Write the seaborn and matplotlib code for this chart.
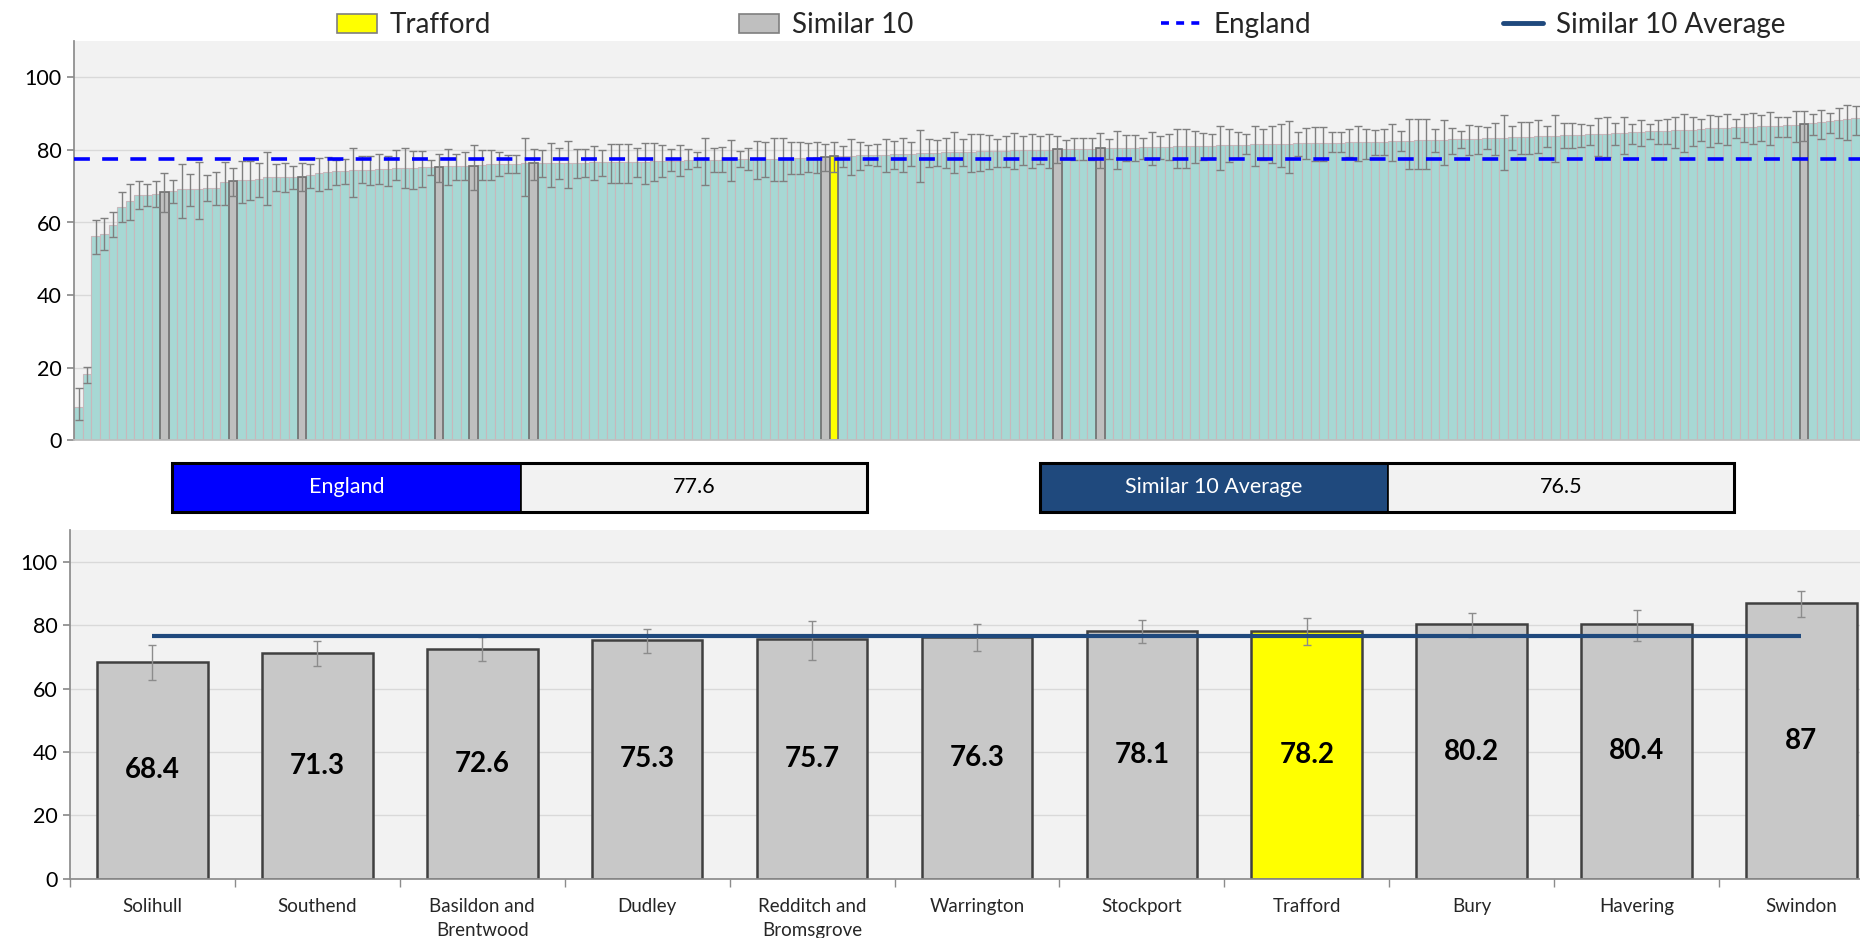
import numpy as np
import pandas as pd
import matplotlib
matplotlib.use("Agg")
import matplotlib.pyplot as plt
import seaborn as sns
from matplotlib.patches import Patch, Rectangle
from matplotlib.lines import Line2D

# ---------------- data ----------------
# top panel: all areas, sorted ascending
all_values = [
    9.1, 18.2, 56.2, 56.9, 59.4, 64.4, 65.8, 67.6, 67.7, 67.9,
    68.4, 68.6, 69.1, 69.2, 69.3, 69.4, 69.5, 71.2, 71.3, 71.6,
    71.8, 71.9, 72.4, 72.5, 72.5, 72.6, 72.6, 73.0, 73.6, 74.0,
    74.1, 74.2, 74.4, 74.5, 74.6, 74.7, 74.8, 75.0, 75.1, 75.1,
    75.2, 75.2, 75.3, 75.5, 75.6, 75.7, 75.7, 75.9, 76.0, 76.1,
    76.2, 76.2, 76.3, 76.3, 76.3, 76.4, 76.4, 76.5, 76.5, 76.5,
    76.6, 76.6, 76.6, 76.7, 76.7, 76.8, 76.8, 76.9, 76.9, 77.0,
    77.0, 77.1, 77.1, 77.2, 77.2, 77.3, 77.3, 77.4, 77.4, 77.5,
    77.6, 77.6, 77.7, 77.8, 77.8, 77.9, 78.0, 78.1, 78.2, 78.3,
    78.4, 78.5, 78.6, 78.6, 78.7, 78.8, 78.9, 79.0, 79.1, 79.2,
    79.2, 79.3, 79.4, 79.5, 79.5, 79.6, 79.7, 79.7, 79.8, 79.9,
    79.9, 80.0, 80.0, 80.1, 80.2, 80.2, 80.3, 80.3, 80.3, 80.4,
    80.5, 80.5, 80.6, 80.6, 80.7, 80.8, 80.9, 80.9, 81.0, 81.0,
    81.1, 81.2, 81.2, 81.3, 81.3, 81.4, 81.4, 81.5, 81.6, 81.6,
    81.7, 81.7, 81.8, 81.8, 81.9, 81.9, 82.0, 82.0, 82.1, 82.1,
    82.2, 82.2, 82.3, 82.4, 82.4, 82.5, 82.6, 82.6, 82.7, 82.8,
    82.9, 83.0, 83.0, 83.1, 83.2, 83.3, 83.4, 83.5, 83.5, 83.6,
    83.7, 83.8, 83.9, 84.0, 84.1, 84.2, 84.3, 84.4, 84.5, 84.6,
    84.7, 84.8, 84.9, 85.1, 85.2, 85.3, 85.4, 85.5, 85.6, 85.7,
    85.9, 86.0, 86.1, 86.2, 86.3, 86.4, 86.5, 86.6, 86.7, 86.8,
    86.9, 87.0, 87.4, 87.6, 87.9, 88.1, 88.4, 88.8,
]
all_lower = [
    5.6, 15.9, 51.3, 52.4, 55.9, 60.0, 60.8, 63.7, 64.6, 64.2,
    62.9, 65.5, 61.3, 64.6, 61.1, 65.8, 64.9, 64.9, 67.2, 65.5,
    66.1, 67.0, 64.7, 68.7, 68.4, 69.3, 68.8, 69.6, 68.8, 69.2,
    70.2, 70.6, 66.9, 71.0, 70.3, 70.7, 70.0, 71.6, 69.6, 69.1,
    69.9, 73.1, 71.2, 70.3, 71.8, 71.6, 69.0, 71.6, 71.6, 72.9,
    73.7, 73.6, 67.3, 71.8, 72.4, 69.9, 71.9, 69.6, 72.3, 72.6,
    71.7, 72.9, 71.0, 71.0, 71.0, 72.6, 70.7, 71.5, 72.5, 74.1,
    72.9, 74.7, 75.4, 70.4, 74.0, 73.9, 71.3, 75.2, 74.4, 72.1,
    72.5, 71.3, 71.3, 73.3, 73.3, 73.8, 73.7, 74.3, 73.8, 75.4,
    73.1, 74.5, 75.9, 75.5, 73.8, 74.8, 73.9, 75.7, 71.1, 75.3,
    75.7, 75.1, 73.5, 75.7, 73.9, 74.3, 74.7, 75.4, 75.4, 74.8,
    75.9, 75.1, 76.1, 75.1, 76.4, 77.4, 77.3, 77.1, 77.3, 75.1,
    77.5, 74.8, 76.9, 76.9, 77.4, 75.9, 77.6, 77.2, 75.1, 75.1,
    76.3, 77.3, 77.7, 74.6, 76.6, 77.8, 78.8, 75.5, 77.1, 76.3,
    75.4, 73.7, 78.4, 77.6, 76.9, 76.9, 79.3, 79.5, 78.1, 76.9,
    77.4, 78.7, 78.7, 76.9, 79.8, 74.8, 74.8, 74.8, 79.4, 75.9,
    78.9, 80.4, 78.6, 78.8, 80.2, 78.5, 74.4, 80.1, 79.0, 79.0,
    79.1, 80.7, 76.8, 80.5, 80.4, 80.9, 81.4, 78.3, 78.0, 81.3,
    78.9, 81.7, 81.2, 82.9, 81.7, 81.6, 80.6, 79.3, 81.2, 82.5,
    80.9, 81.8, 81.3, 83.3, 82.1, 81.7, 82.4, 81.3, 83.5, 83.5,
    82.1, 82.5, 84.2, 83.1, 84.7, 83.4, 82.6, 84.0,
]
all_upper = [
    14.3, 20.3, 60.7, 61.3, 62.8, 68.5, 70.6, 71.3, 70.6, 71.3,
    73.6, 71.8, 76.1, 73.4, 76.6, 73.0, 73.9, 76.8, 75.0, 76.9,
    76.9, 76.3, 79.3, 76.2, 76.5, 75.7, 76.5, 76.2, 77.9, 78.1,
    77.3, 77.5, 80.5, 78.3, 78.3, 79.0, 78.3, 80.0, 80.4, 79.7,
    79.6, 77.3, 78.9, 80.3, 79.0, 79.3, 81.4, 80.0, 80.1, 79.3,
    78.7, 78.7, 83.3, 80.3, 80.0, 81.9, 80.5, 82.4, 80.3, 80.2,
    81.0, 80.0, 81.6, 81.6, 81.6, 80.4, 82.0, 82.0, 81.4, 80.2,
    81.3, 80.2, 79.4, 83.3, 80.5, 80.8, 82.7, 79.8, 80.5, 82.4,
    82.2, 83.3, 83.3, 82.2, 82.2, 81.8, 82.2, 81.6, 82.1, 81.1,
    83.1, 82.3, 81.4, 81.7, 83.1, 82.5, 83.4, 82.2, 85.6, 82.9,
    82.8, 83.4, 84.8, 83.1, 84.5, 84.3, 84.1, 82.9, 83.7, 84.7,
    83.8, 84.3, 83.7, 84.3, 83.8, 82.8, 83.3, 83.4, 83.4, 84.7,
    83.1, 85.2, 84.0, 84.0, 83.3, 84.8, 83.7, 84.3, 85.8, 85.8,
    85.1, 84.6, 84.5, 86.6, 85.8, 84.9, 84.3, 86.6, 85.8, 86.5,
    87.2, 88.0, 85.0, 86.0, 86.3, 86.3, 84.8, 84.8, 85.8, 86.7,
    85.8, 85.6, 85.8, 87.2, 85.2, 88.6, 88.6, 88.6, 85.8, 88.2,
    86.1, 85.2, 86.8, 86.7, 86.2, 87.5, 89.7, 86.6, 87.7, 87.7,
    88.1, 86.6, 89.5, 87.4, 87.4, 87.1, 86.9, 88.9, 89.2, 87.5,
    89.1, 87.2, 88.1, 87.2, 88.1, 88.4, 89.1, 90.0, 89.1, 88.6,
    89.7, 89.4, 89.9, 88.5, 89.9, 90.2, 89.7, 90.4, 89.0, 89.2,
    90.7, 90.6, 90.0, 91.0, 90.2, 91.5, 92.4, 92.0,
]
# positions (rank order) of the comparison group in the top panel
similar_positions = [10, 18, 26, 42, 46, 53, 87, 114, 119, 201]
trafford_position = 88

# bottom panel: Similar 10 + Trafford
similar_names = ["Solihull", "Southend", "Basildon and\nBrentwood", "Dudley",
                 "Redditch and\nBromsgrove", "Warrington", "Stockport",
                 "Trafford", "Bury", "Havering", "Swindon"]
similar_values = [68.4, 71.3, 72.6, 75.3, 75.7, 76.3, 78.1, 78.2, 80.2, 80.4, 87]
similar_lower = [62.7, 67.1, 68.6, 71.2, 69.0, 71.8, 74.3, 73.8, 76.4, 75.1, 82.5]
similar_upper = [73.6, 75.0, 76.4, 78.9, 81.4, 80.3, 81.6, 82.1, 83.8, 84.7, 90.6]
highlight_name = "Trafford"

england_value = 77.6
similar_avg_value = 76.5
legend_labels = ["Trafford", "Similar 10", "England", "Similar 10 Average"]
y_ticks = [0, 20, 40, 60, 80, 100]

# ---------------- style ----------------
TEAL = "#A7D8D4"
TEAL_EDGE = "#C7B8BC"
GREY = "#BFBFBF"
GREY_EDGE = "#6E6E6E"
YELLOW = "#FFFF00"
BLUE = "#0000FF"
NAVY = "#1F497D"
PANEL = "#F2F2F2"
GRID = "#D9D9D9"
ERR = "#7F7F7F"

sns.set_theme(style="white")
plt.rcParams["font.family"] = ["Lato", "DejaVu Sans"]

W, H = 1860, 938
fig = plt.figure(figsize=(W / 100, H / 100), dpi=100)

# ---------------- top panel ----------------
n = len(all_values)
area_names = [f"Area {i + 1}" for i in range(n)]
groups = ["Other"] * n
for p in similar_positions:
    groups[p] = "Similar 10"
groups[trafford_position] = "Trafford"
df_all = pd.DataFrame({"name": area_names, "value": all_values, "group": groups,
                       "lower": all_lower, "upper": all_upper})

ax1 = fig.add_axes([74.3 / W, 1 - 440.3 / H, 1 - 74.3 / W, (440.3 - 41) / H])
ax1.set_facecolor(PANEL)
style_map = {"Other": (TEAL, TEAL_EDGE, 0.8),
             "Similar 10": (GREY, GREY_EDGE, 1.2),
             "Trafford": (YELLOW, GREY_EDGE, 1.2)}
for g, (fc, ec, lw) in style_map.items():
    sub = df_all[df_all["group"] == g]
    sns.barplot(data=sub, x="name", y="value", order=area_names, color=fc,
                edgecolor=ec, linewidth=lw, width=1.0, saturation=1,
                errorbar=None, ax=ax1, zorder=2)
vals = df_all["value"].to_numpy()
ax1.errorbar(np.arange(n), vals,
             yerr=[vals - df_all["lower"].to_numpy(), df_all["upper"].to_numpy() - vals],
             fmt="none", ecolor=ERR, elinewidth=1, capsize=3, capthick=1, zorder=3)
ax1.axhline(england_value, color=BLUE, lw=2.6, dashes=(4.4, 3.4), zorder=4)
ax1.set_yticks(y_ticks)
ax1.set_xticks([])
ax1.set_xlim(-0.5, n - 0.5)
ax1.set_ylim(0, 110)
ax1.set_xlabel("")
ax1.set_ylabel("")
ax1.grid(axis="y", color=GRID, lw=1)
ax1.set_axisbelow(True)
for s in ["top", "right"]:
    ax1.spines[s].set_visible(False)
ax1.spines["left"].set_color("#8C8C8C")
ax1.spines["bottom"].set_color("#BFBFBF")
ax1.tick_params(axis="y", length=5, color="#8C8C8C", labelsize=15.5, pad=4,
                left=True, labelcolor="black")

# ---------------- summary boxes ----------------
def summary_box(x0, x1, x2, color, label, value):
    y0, y1 = 462.7, 512.0
    fig.patches.append(Rectangle((x0 / W, 1 - y1 / H), (x1 - x0) / W, (y1 - y0) / H,
                                 transform=fig.transFigure, facecolor=color,
                                 edgecolor="black", lw=1.2))
    fig.patches.append(Rectangle((x1 / W, 1 - y1 / H), (x2 - x1) / W, (y1 - y0) / H,
                                 transform=fig.transFigure, facecolor=PANEL,
                                 edgecolor="black", lw=1.2))
    fig.patches.append(Rectangle((x0 / W, 1 - y1 / H), (x2 - x0) / W, (y1 - y0) / H,
                                 transform=fig.transFigure, facecolor="none",
                                 edgecolor="black", lw=2.2))
    yc = 1 - (y0 + y1) / 2 / H
    fig.text((x0 + x1) / 2 / W, yc, label, color="white", ha="center", va="center",
             fontsize=15.5)
    fig.text((x1 + x2) / 2 / W, yc, f"{value:g}", color="black", ha="center",
             va="center", fontsize=15.5)

summary_box(172.3, 520.5, 867.0, BLUE, legend_labels[2], england_value)
summary_box(1040.0, 1388.0, 1734.0, NAVY, legend_labels[3], similar_avg_value)

# ---------------- bottom panel ----------------
m = len(similar_names)
df_sim = pd.DataFrame({"name": similar_names, "value": similar_values,
                       "lower": similar_lower, "upper": similar_upper})
df_sim["group"] = np.where(df_sim["name"] == highlight_name, "Trafford", "Similar 10")

cat_w = 164.9
ax2 = fig.add_axes([70 / W, 1 - 878.7 / H, 1 - 70 / W, (878.7 - 530) / H])
ax2.set_facecolor(PANEL)
sns.barplot(data=df_sim, x="name", y="value", hue="group", order=similar_names,
            palette={"Similar 10": "#C8C8C8", "Trafford": YELLOW}, dodge=False,
            width=0.671, edgecolor="#404040", linewidth=1.8, saturation=1,
            errorbar=None, legend=False, ax=ax2, zorder=2)
sv = df_sim["value"].to_numpy()
ax2.errorbar(np.arange(m), sv,
             yerr=[sv - df_sim["lower"].to_numpy(), df_sim["upper"].to_numpy() - sv],
             fmt="none", ecolor="#8C8C8C", elinewidth=1, capsize=3, capthick=1, zorder=3)
ax2.plot([0, m - 1], [similar_avg_value, similar_avg_value], color=NAVY, lw=3,
         solid_capstyle="butt", zorder=4)
for i, v in enumerate(sv):
    ax2.text(i, v / 2, f"{v:g}", ha="center", va="center", fontsize=20,
             fontweight="bold", color="black", zorder=5)

ax2.set_yticks(y_ticks)
ax2.set_xticks(np.arange(m + 1) - 0.5, minor=True)
ax2.set_xlim(-0.5, -0.5 + (W - 70) / cat_w)
ax2.set_ylim(0, 110)
ax2.set_xlabel("")
ax2.set_ylabel("")
ax2.grid(axis="y", color=GRID, lw=1)
ax2.set_axisbelow(True)
for s in ["top", "right"]:
    ax2.spines[s].set_visible(False)
ax2.spines["left"].set_color("#8C8C8C")
ax2.spines["bottom"].set_color("#8C8C8C")
ax2.tick_params(axis="y", length=5, color="#8C8C8C", labelsize=15.5, pad=4,
                left=True, labelcolor="black")
ax2.tick_params(axis="x", which="major", length=0, labelsize=13.5, pad=14)
ax2.tick_params(axis="x", which="minor", length=6, color="#8C8C8C", bottom=True,
                direction="out")
for lab in ax2.get_xticklabels():
    lab.set_linespacing(1.5)

# ---------------- legend ----------------
handles = [
    Patch(facecolor=YELLOW, edgecolor="#7F7F7F", lw=1.2),
    Patch(facecolor=GREY, edgecolor="#7F7F7F", lw=1.2),
    Line2D([], [], color=BLUE, lw=2.6, dashes=(2.2, 2.0)),
    Line2D([], [], color=NAVY, lw=3.5),
]
legend_x = [337, 739, 1161, 1503]
for h, lab, x in zip(handles, legend_labels, legend_x):
    fig.legend([h], [lab], loc="center left", bbox_to_anchor=(x / W, 1 - 25 / H),
               frameon=False, fontsize=20, handlelength=1.45, handleheight=0.65,
               handletextpad=0.45, borderpad=0, borderaxespad=0)

fig.savefig("out.png", dpi=100, facecolor="white")
